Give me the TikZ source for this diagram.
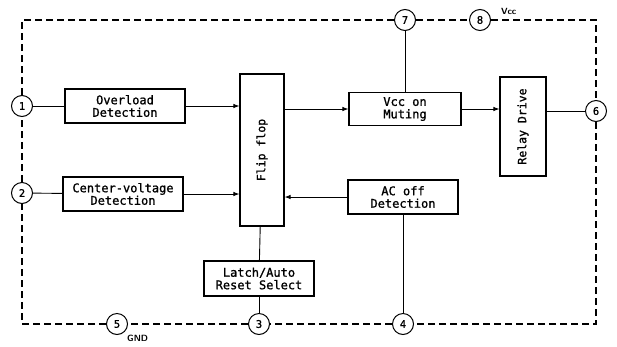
\documentclass[tikz,border=0pt]{standalone}
\usepackage{fontspec}
\newfontfamily\lbl[FakeBold=1.2,AutoFakeBold=1.2]{DejaVu Sans Mono}
\usetikzlibrary{arrows.meta}
\begin{document}
\begin{tikzpicture}[x=1pt,y=-1pt,
  blk/.style={draw,line width=1.1pt,inner sep=0pt,font=\lbl\fontsize{12}{12.5}\selectfont,align=center},
  vtext/.style={font=\lbl\fontsize{11.5}{12}\selectfont,rotate=90},
  pin/.style={draw,circle,line width=1pt,minimum size=21pt,inner sep=0pt,fill=white,font=\lbl\bfseries\fontsize{10.5}{10.5}\selectfont},
  frame/.style={line width=1.4pt,dash pattern=on 7pt off 4pt},
  wire/.style={line width=0.9pt},
  arr/.style={wire,-{Latex[length=6pt,width=4.5pt]}},
  small/.style={font=\sffamily\bfseries\fontsize{9}{9}\selectfont,inner sep=0pt}]
\useasboundingbox (0,0) rectangle (617,346);
% blocks
\node[blk,minimum width=120pt,minimum height=34pt] (ovl) at (125,106) {Overload\\Detection};
\node[blk,minimum width=120pt,minimum height=34pt] (cvd) at (123,194) {Center-voltage\\Detection};
\node[blk,minimum width=44pt,minimum height=152pt] (ff) at (262,150) {};
\node[vtext] at (ff.center) {Flip flop};
\node[blk,minimum width=110pt,minimum height=35pt] (lat) at (259,278.5) {Latch/Auto\\Reset Select};
\node[blk,minimum width=112pt,minimum height=33pt] (vcm) at (405,109) {Vcc on\\Muting};
\node[blk,minimum width=46pt,minimum height=99pt] (rly) at (523,126.5) {};
\node[vtext] at (rly.center) {Relay Drive};
\node[blk,minimum width=110pt,minimum height=34pt] (acd) at (403,197) {AC off\\Detection};
% frame corners
\coordinate (tl) at (22,20);
\coordinate (tr) at (596,20);
\coordinate (bl) at (22,324);
\coordinate (br) at (596,324);
% pins
\node[pin] (p1) at (22,106) {1};
\node[pin] (p2) at (22,193) {2};
\node[pin] (p5) at (117,324) {5};
\node[pin] (p3) at (259,324) {3};
\node[pin] (p4) at (403,324) {4};
\node[pin] (p7) at (405,20) {7};
\node[pin] (p8) at (480,20) {8};
\node[pin] (p6) at (596,111) {6};
% frame
\draw[frame] (p1) -- (tl) -- (p7);
\draw[frame] (p7) -- (p8);
\draw[frame] (p8) -- (tr) -- (p6);
\draw[frame] (p6) -- (br) -- (p4);
\draw[frame] (p4) -- (p3);
\draw[frame] (p3) -- (p5);
\draw[frame] (p5) -- (bl) -- (p2);
\draw[frame] (p2) -- (p1);
% labels
\node[small,anchor=south west] (vcc) at (501,15) {Vcc};
\node[small,anchor=north west] (gnd) at (127,335) {GND};
% wires
\draw[wire] (p1) -- (ovl);
\draw[arr] (ovl.east) -- (ovl.east -| ff.west);
\draw[wire] (p2) -- (cvd);
\draw[arr] (cvd.east) -- (cvd.east -| ff.west);
\draw[arr] (ff.east |- vcm.west) -- (vcm.west);
\draw[arr] (vcm.east) -- (vcm.east -| rly.west);
\draw[wire] (rly.east |- p6) -- (p6);
\draw[wire] (p7) -- (vcm);
\draw[arr] (acd.west) -- (acd.west -| ff.east);
\draw[wire] (acd) -- (p4);
\draw[wire] (ff) -- (lat);
\draw[wire] (lat) -- (p3);
\end{tikzpicture}
\end{document}
